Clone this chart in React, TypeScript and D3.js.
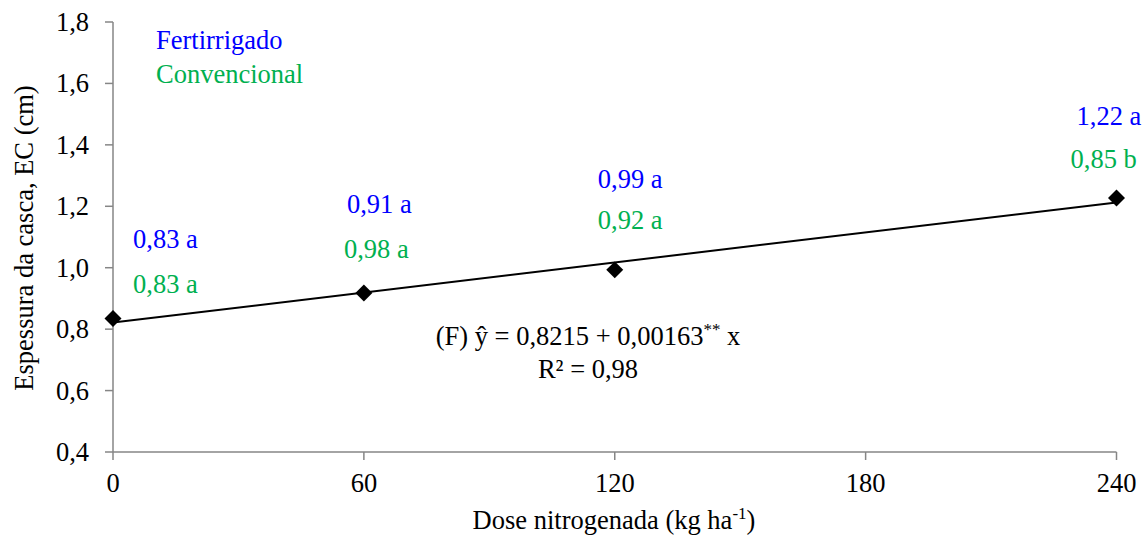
import React from 'react';
import * as d3 from 'd3';

// data
const doses = [0, 60, 120, 240];
const observed = [0.835, 0.918, 0.993, 1.227];
const labelsFert = ['0,83 a', '0,91 a', '0,99 a', '1,22 a'];
const labelsConv = ['0,83 a', '0,98 a', '0,92 a', '0,85 b'];
const legendNames = ['Fertirrigado', 'Convencional'];
const xTicks = [0, 60, 120, 180, 240];
const yTicks = [0.4, 0.6, 0.8, 1.0, 1.2, 1.4, 1.6, 1.8];
const trendCoef = [0.8215, 0.00163];

const BLUE = '#0000ff';
const GREEN = '#00b050';
const AXIS = '#868686';
const FONT = 'Liberation Serif';
const FS = 26.5;

const W = 1148, H = 536;
const left = 113, right = 1116.5, top = 22, bottom = 452;

const x = d3.scaleLinear().domain([0, 240]).range([left, right]);
const y = d3.scaleLinear().domain([0.4, 1.8]).range([bottom, top]);
const fmt = (v: number) => d3.format('.1f')(v).replace('.', ',');
const trend = d3.line<number>()
    .x(d => x(d))
    .y(d => y(trendCoef[0] + trendCoef[1] * d));
const diamond = d3.symbol(d3.symbolSquare, 144)() as string;

// label offsets from each marker, placed by hand as in the figure
const fertDx = [20, -17, -17, -40];
const convDx = [20, -20, -17, -46];
const fertDy = [-70, -80, -82, -73];
const convDy = [-25, -35, -41, -30];

const T = (props: any) => <text fontFamily={FONT} fontSize={FS} {...props} />;

const App = () => (
    <svg width={W} height={H} style={{ position: 'absolute', left: 0, top: 0, display: 'block', background: '#fff' }}>
        {/* y axis */}
        <line x1={left} x2={left} y1={top} y2={bottom} stroke={AXIS} strokeWidth={1.5} />
        {yTicks.map(t => (
            <g key={t}>
                <line x1={left - 8} x2={left} y1={y(t)} y2={y(t)} stroke={AXIS} strokeWidth={1.5} />
                <T x={left - 24} y={y(t)} dy="0.34em" textAnchor="end" fill="#000">{fmt(t)}</T>
            </g>
        ))}
        {/* x axis */}
        <line x1={left} x2={right} y1={bottom} y2={bottom} stroke={AXIS} strokeWidth={1.5} />
        {xTicks.map(t => (
            <g key={t}>
                <line x1={x(t)} x2={x(t)} y1={bottom} y2={bottom + 8} stroke={AXIS} strokeWidth={1.5} />
                <T x={x(t)} y={bottom + 40} textAnchor="middle" fill="#000">{t}</T>
            </g>
        ))}

        {/* regression line */}
        <path d={trend([0, 240]) as string} fill="none" stroke="#000" strokeWidth={2} />

        {/* diamond markers */}
        {doses.map((d, i) => (
            <path key={d} d={diamond} fill="#000" transform={`translate(${x(d)},${y(observed[i])}) rotate(45)`} />
        ))}

        {/* value labels */}
        {doses.map((d, i) => (
            <g key={'l' + d}>
                <T x={x(d) + fertDx[i]} y={y(observed[i]) + fertDy[i]} fill={BLUE}>{labelsFert[i]}</T>
                <T x={x(d) + convDx[i]} y={y(observed[i]) + convDy[i]} fill={GREEN}>{labelsConv[i]}</T>
            </g>
        ))}

        {/* legend */}
        {legendNames.map((n, i) => (
            <T key={n} x={156} y={49 + i * 34} fill={i === 0 ? BLUE : GREEN}>{n}</T>
        ))}

        {/* equation */}
        <T x={588} y={345} textAnchor="middle" fill="#000">
            <tspan>(F) ŷ = 0,8215 + 0,00163</tspan>
            <tspan dy={-10} fontSize={17}>**</tspan>
            <tspan dy={10}> x</tspan>
        </T>
        <T x={588} y={378} textAnchor="middle" fill="#000">R² = 0,98</T>

        {/* axis titles */}
        <T x={614} y={529} textAnchor="middle" fill="#000">
            <tspan>Dose nitrogenada (kg ha</tspan>
            <tspan dy={-10} fontSize={17}>-1</tspan>
            <tspan dy={10}>)</tspan>
        </T>
        <T transform="translate(33,238) rotate(-90)" textAnchor="middle" fill="#000">
            Espessura da casca, EC (cm)
        </T>
    </svg>
);

export default App;
